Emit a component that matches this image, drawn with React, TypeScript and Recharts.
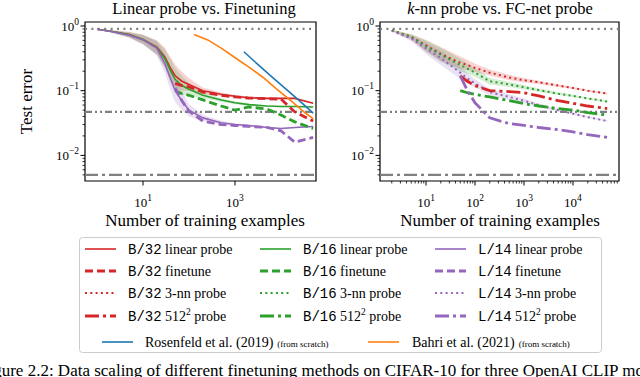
import React from "react";
import {
  Area,
  ComposedChart,
  Line,
  ReferenceArea,
  ReferenceLine,
  XAxis,
  YAxis,
} from "recharts";

const SERIF = "'Liberation Serif', 'Times New Roman', serif";
const MONO = "'Liberation Mono', 'Courier New', monospace";

const RED = "#d62728";
const GREEN = "#2ca02c";
const PURPLE = "#9467bd";
const BLUE = "#1f77b4";
const ORANGE = "#ff7f0e";
const GRAY = "#808080";

// ---- left panel: linear probe vs. finetuning ----
const N_LEFT = [1, 2, 5, 10, 20, 30, 40, 50, 70, 100, 200, 500, 1000, 2000, 5000, 10000, 20000, 50000];
const B32_LINEAR = [0.89, 0.83, 0.74, 0.62, 0.47, 0.33, 0.22, 0.17, 0.14, 0.125, 0.1, 0.088, 0.082, 0.078, 0.076, 0.076, 0.076, 0.064];
const B16_LINEAR = [0.89, 0.83, 0.73, 0.62, 0.46, 0.31, 0.2, 0.15, 0.12, 0.105, 0.085, 0.072, 0.065, 0.061, 0.058, 0.057, 0.057, 0.056];
const L14_LINEAR = [0.89, 0.82, 0.72, 0.61, 0.45, 0.26, 0.15, 0.1, 0.07, 0.05, 0.038, 0.032, 0.03, 0.029, 0.027, 0.026, 0.027, 0.028];
const B32_FINETUNE = [null, null, null, null, null, null, null, 0.13, 0.12, 0.115, 0.095, 0.085, 0.08, 0.077, 0.075, 0.074, 0.047, 0.034];
const B16_FINETUNE = [null, null, null, null, null, null, null, 0.1, 0.09, 0.085, 0.072, 0.058, 0.05, 0.056, 0.052, 0.042, 0.033, 0.026];
const L14_FINETUNE = [null, null, null, null, null, null, null, 0.11, 0.07, 0.048, 0.034, 0.03, 0.029, 0.028, 0.027, 0.024, 0.016, 0.019];
// seed spread (multiplicative) of the shaded bands
const SPREAD_LEFT = [1.01, 1.04, 1.1, 1.18, 1.28, 1.4, 1.5, 1.5, 1.4, 1.25, 1.12, 1.07, 1.05, 1.04, 1.03, 1.03, 1.02, 1.02];

const N_ROSENFELD = [1562, 3125, 6250, 12500, 25000, 50000];
const ROSENFELD = [0.4, 0.255, 0.165, 0.108, 0.07, 0.045];
const N_BAHRI = [128, 256, 512, 1024, 2048, 4096, 8192, 16384, 32768, 50000];
const BAHRI = [0.74, 0.61, 0.45, 0.32, 0.23, 0.16, 0.105, 0.07, 0.046, 0.037];

// ---- right panel: k-nn probe vs. FC-net probe ----
const N_RIGHT = [2, 5, 10, 20, 50, 70, 100, 200, 500, 1000, 2000, 5000, 10000, 20000, 50000];
const B32_KNN = [0.86, 0.68, 0.5, 0.37, 0.27, 0.25, 0.225, 0.19, 0.16, 0.145, 0.135, 0.12, 0.11, 0.1, 0.09];
const B16_KNN = [0.86, 0.68, 0.49, 0.36, 0.25, 0.22, 0.19, 0.14, 0.125, 0.113, 0.102, 0.09, 0.083, 0.076, 0.068];
const L14_KNN = [0.84, 0.64, 0.45, 0.32, 0.19, 0.155, 0.13, 0.095, 0.08, 0.07, 0.06, 0.05, 0.044, 0.039, 0.034];
const B32_MLP = [null, null, null, null, 0.17, 0.14, 0.12, 0.1, 0.097, 0.093, 0.083, 0.07, 0.064, 0.058, 0.053];
const B16_MLP = [null, null, null, null, 0.1, 0.093, 0.088, 0.08, 0.07, 0.063, 0.058, 0.053, 0.05, 0.046, 0.042];
const L14_MLP = [null, null, null, null, 0.17, 0.1, 0.065, 0.038, 0.031, 0.029, 0.027, 0.025, 0.023, 0.021, 0.019];
const SPREAD_RIGHT = [1.02, 1.1, 1.22, 1.28, 1.25, 1.2, 1.16, 1.12, 1.1, 1.08, 1.06, 1.05, 1.04, 1.03, 1.03];

// horizontal reference levels
const REF_Y = [0.9, 0.047, 0.005];
const REF_DASH = ["2 4.4", "7 3 2 3 2 3", "13 4 3 4"];

// axes
const X_DOMAIN_LEFT: [number, number] = [0.548, 57700];
const X_DOMAIN_RIGHT: [number, number] = [1.15, 86900];
const Y_DOMAIN: [number, number] = [0.00402, 1.153];
const X_TICKS_LEFT = [10, 1000];

function logTicks(domain: [number, number]) {
  const out: number[] = [];
  for (let e = Math.floor(Math.log10(domain[0])); e <= Math.ceil(Math.log10(domain[1])); e++) {
    for (let k = 1; k <= 9; k++) {
      const v = Number((k * Math.pow(10, e)).toPrecision(6));
      if (v >= domain[0] && v <= domain[1]) out.push(v);
    }
  }
  return out;
}

const isMajor = (v: number) => {
  const e = Math.log10(v);
  return Math.abs(e - Math.round(e)) < 1e-6;
};
const expText = (v: number) => {
  const e = Math.round(Math.log10(v));
  return e < 0 ? "\u2212" + Math.abs(e) : String(e);
};

const XTick = (props: any) => {
  const { x, y, payload } = props;
  const v = payload.value;
  const major = isMajor(v);
  return (
    <g>
      <line x1={x} x2={x} y1={y} y2={y + (major ? 4.5 : 2.5)} stroke="#000" strokeWidth={major ? 1 : 0.8} />
      {major && (
        <text x={x} y={y + 26} textAnchor="middle" fontFamily={SERIF} fontSize={13} fill="#000">
          10
          <tspan dy={-6} fontSize={9.5}>
            {expText(v)}
          </tspan>
        </text>
      )}
    </g>
  );
};

const YTick = (props: any) => {
  const { x, y, payload } = props;
  const v = payload.value;
  const major = isMajor(v);
  return (
    <g>
      <line x1={x} x2={x - (major ? 4.5 : 2.5)} y1={y} y2={y} stroke="#000" strokeWidth={major ? 1 : 0.8} />
      {major && (
        <text x={x - 6} y={y + 4.5} textAnchor="end" fontFamily={SERIF} fontSize={13} fill="#000">
          10
          <tspan dy={-6} fontSize={9.5}>
            {expText(v)}
          </tspan>
        </text>
      )}
    </g>
  );
};

const band = (vals: (number | null)[], spread: number[], i: number) => {
  const v = vals[i];
  return v == null ? null : [v / spread[i], v * spread[i]];
};

const leftRows = N_LEFT.map((n, i) => ({
  n,
  b32: B32_LINEAR[i],
  b16: B16_LINEAR[i],
  l14: L14_LINEAR[i],
  b32ft: B32_FINETUNE[i],
  b16ft: B16_FINETUNE[i],
  l14ft: L14_FINETUNE[i],
  b32Band: band(B32_LINEAR, SPREAD_LEFT, i),
  b16Band: band(B16_LINEAR, SPREAD_LEFT, i),
  l14Band: band(L14_LINEAR, SPREAD_LEFT, i),
}));

const rightRows = N_RIGHT.map((n, i) => ({
  n,
  b32: B32_KNN[i],
  b16: B16_KNN[i],
  l14: L14_KNN[i],
  b32mlp: B32_MLP[i],
  b16mlp: B16_MLP[i],
  l14mlp: L14_MLP[i],
  b32Band: band(B32_KNN, SPREAD_RIGHT, i),
  b16Band: band(B16_KNN, SPREAD_RIGHT, i),
  l14Band: band(L14_KNN, SPREAD_RIGHT, i),
}));

const rosenfeldRows = N_ROSENFELD.map((n, i) => ({ n, err: ROSENFELD[i] }));
const bahriRows = N_BAHRI.map((n, i) => ({ n, err: BAHRI[i] }));

const SOLID = { strokeWidth: 1.6 };
const DASHED = { strokeWidth: 2.8, strokeDasharray: "8 4" };
const DOTTED = { strokeWidth: 2, strokeDasharray: "2 3.3" };
const DASHDOT = { strokeWidth: 2.8, strokeDasharray: "14 4 3 4" };

function bands() {
  return [
    ["b32Band", RED],
    ["b16Band", GREEN],
    ["l14Band", PURPLE],
  ].map(([key, color]) => (
    <Area
      key={key}
      dataKey={key}
      type="linear"
      stroke="none"
      fill={color}
      fillOpacity={0.2}
      isAnimationActive={false}
      connectNulls={false}
    />
  ));
}

function refLines() {
  return REF_Y.map((y, i) => (
    <ReferenceLine key={y} y={y} stroke={GRAY} strokeWidth={2.2} strokeDasharray={REF_DASH[i]} />
  ));
}

function frame(xd: [number, number]) {
  return (
    <ReferenceArea
      x1={xd[0]}
      x2={xd[1]}
      y1={Y_DOMAIN[0]}
      y2={Y_DOMAIN[1]}
      fill="none"
      fillOpacity={0}
      stroke="#000"
      strokeWidth={1.2}
      ifOverflow="visible"
    />
  );
}

function LeftPanel() {
  return (
    <ComposedChart
      width={320}
      height={230}
      data={leftRows}
      margin={{ top: 22, right: 4, bottom: 0, left: 35 }}
    >
      <XAxis
        dataKey="n"
        type="number"
        scale="log"
        domain={X_DOMAIN_LEFT}
        allowDataOverflow
        ticks={X_TICKS_LEFT}
        interval={0}
        tick={XTick}
        tickLine={false}
        tickSize={0}
        tickMargin={0}
        axisLine={false}
        height={49}
      />
      <YAxis
        type="number"
        scale="log"
        domain={Y_DOMAIN}
        allowDataOverflow
        ticks={logTicks(Y_DOMAIN)}
        interval={0}
        tick={YTick}
        tickLine={false}
        tickSize={0}
        tickMargin={0}
        axisLine={false}
        width={50}
      />
      {bands()}
      {refLines()}
      <Line dataKey="b32" stroke={RED} {...SOLID} dot={false} isAnimationActive={false} />
      <Line dataKey="b16" stroke={GREEN} {...SOLID} dot={false} isAnimationActive={false} />
      <Line dataKey="l14" stroke={PURPLE} {...SOLID} dot={false} isAnimationActive={false} />
      <Line dataKey="b32ft" stroke={RED} {...DASHED} dot={false} isAnimationActive={false} />
      <Line dataKey="b16ft" stroke={GREEN} {...DASHED} dot={false} isAnimationActive={false} />
      <Line dataKey="l14ft" stroke={PURPLE} {...DASHED} dot={false} isAnimationActive={false} />
      <Line data={rosenfeldRows} dataKey="err" stroke={BLUE} {...SOLID} dot={false} isAnimationActive={false} />
      <Line data={bahriRows} dataKey="err" stroke={ORANGE} {...SOLID} dot={false} isAnimationActive={false} />
      {frame(X_DOMAIN_LEFT)}
    </ComposedChart>
  );
}

function RightPanel() {
  return (
    <ComposedChart
      width={320}
      height={230}
      data={rightRows}
      margin={{ top: 22, right: 21, bottom: 0, left: 10 }}
    >
      <XAxis
        dataKey="n"
        type="number"
        scale="log"
        domain={X_DOMAIN_RIGHT}
        allowDataOverflow
        ticks={logTicks(X_DOMAIN_RIGHT)}
        interval={0}
        tick={XTick}
        tickLine={false}
        tickSize={0}
        tickMargin={0}
        axisLine={false}
        height={49}
      />
      <YAxis
        type="number"
        scale="log"
        domain={Y_DOMAIN}
        allowDataOverflow
        ticks={logTicks(Y_DOMAIN)}
        interval={0}
        tick={YTick}
        tickLine={false}
        tickSize={0}
        tickMargin={0}
        axisLine={false}
        width={50}
      />
      {bands()}
      {refLines()}
      <Line dataKey="b32" stroke={RED} {...DOTTED} dot={false} isAnimationActive={false} />
      <Line dataKey="b16" stroke={GREEN} {...DOTTED} dot={false} isAnimationActive={false} />
      <Line dataKey="l14" stroke={PURPLE} {...DOTTED} dot={false} isAnimationActive={false} />
      <Line dataKey="b32mlp" stroke={RED} {...DASHDOT} dot={false} isAnimationActive={false} />
      <Line dataKey="b16mlp" stroke={GREEN} {...DASHDOT} dot={false} isAnimationActive={false} />
      <Line dataKey="l14mlp" stroke={PURPLE} {...DASHDOT} dot={false} isAnimationActive={false} />
      {frame(X_DOMAIN_RIGHT)}
    </ComposedChart>
  );
}

const MODELS = [
  { name: "B/32", color: RED },
  { name: "B/16", color: GREEN },
  { name: "L/14", color: PURPLE },
];
const LEGEND_COLS = [
  { x1: 85, x2: 116, tx: 128 },
  { x1: 260, x2: 291, tx: 303 },
  { x1: 435, x2: 466, tx: 478 },
];
const LEGEND_ROWS = [
  { style: SOLID, label: "linear probe" },
  { style: DASHED, label: "finetune" },
  { style: DOTTED, label: "3-nn probe" },
  { style: DASHDOT, label: "512" },
];
const ROW_BASE = [254, 276, 298, 321];

function Overlay() {
  return (
    <svg
      width={640}
      height={377}
      style={{ position: "absolute", left: 0, top: 0, pointerEvents: "none" }}
      fontFamily={SERIF}
    >
      <text x={204} y={14} textAnchor="middle" fontSize={16.5}>
        Linear probe vs. Finetuning
      </text>
      <text x={500} y={14} textAnchor="middle" fontSize={16.5}>
        <tspan fontStyle="italic">k</tspan>-nn probe vs. FC-net probe
      </text>
      <text x={32} y={101.5} textAnchor="middle" fontSize={17} transform="rotate(-90 32 101.5)">
        Test error
      </text>
      <text x={205} y={226} textAnchor="middle" fontSize={17}>
        Number of training examples
      </text>
      <text x={500} y={226} textAnchor="middle" fontSize={17}>
        Number of training examples
      </text>

      <rect x={79.5} y={237.5} width={522} height={115} rx={3} fill="#fff" stroke="#cccccc" strokeWidth={1} />
      {LEGEND_ROWS.map((row, r) =>
        MODELS.map((m, c) => {
          const col = LEGEND_COLS[c];
          const base = ROW_BASE[r];
          return (
            <g key={`${r}-${c}`}>
              <line
                x1={col.x1}
                x2={col.x2}
                y1={base - 5}
                y2={base - 5}
                stroke={m.color}
                strokeWidth={row.style.strokeWidth}
                strokeDasharray={(row.style as any).strokeDasharray}
              />
              <text x={col.tx} y={base} fontSize={14} fill="#000">
                <tspan fontFamily={MONO}>{m.name}</tspan>
                {r === 3 ? (
                  <>
                    <tspan> 512</tspan>
                    <tspan dy={-6} fontSize={9.5}>
                      2
                    </tspan>
                    <tspan dy={6}> probe</tspan>
                  </>
                ) : (
                  <tspan> {row.label}</tspan>
                )}
              </text>
            </g>
          );
        })
      )}
      <line x1={102} x2={133} y1={342} y2={342} stroke={BLUE} strokeWidth={1.6} />
      <text x={145} y={347} fontSize={14}>
        Rosenfeld et al. (2019)
        <tspan fontSize={9} dx={4}>
          (from scratch)
        </tspan>
      </text>
      <line x1={368} x2={399} y1={342} y2={342} stroke={ORANGE} strokeWidth={1.6} />
      <text x={412} y={347} fontSize={14}>
        Bahri et al. (2021)
        <tspan fontSize={9} dx={4}>
          (from scratch)
        </tspan>
      </text>

      <text x={-21} y={376} fontSize={17}>
        Figure 2.2: Data scaling of different finetuning methods on CIFAR-10 for three OpenAI CLIP models
      </text>
    </svg>
  );
}

export default function App() {
  return (
    <div
      style={{
        position: "absolute",
        left: 0,
        top: 0,
        width: 640,
        height: 377,
        overflow: "hidden",
        background: "#fff",
      }}
    >
      <div style={{ position: "absolute", left: 0, top: 0 }}>
        <LeftPanel />
      </div>
      <div style={{ position: "absolute", left: 320, top: 0 }}>
        <RightPanel />
      </div>
      <Overlay />
    </div>
  );
}
